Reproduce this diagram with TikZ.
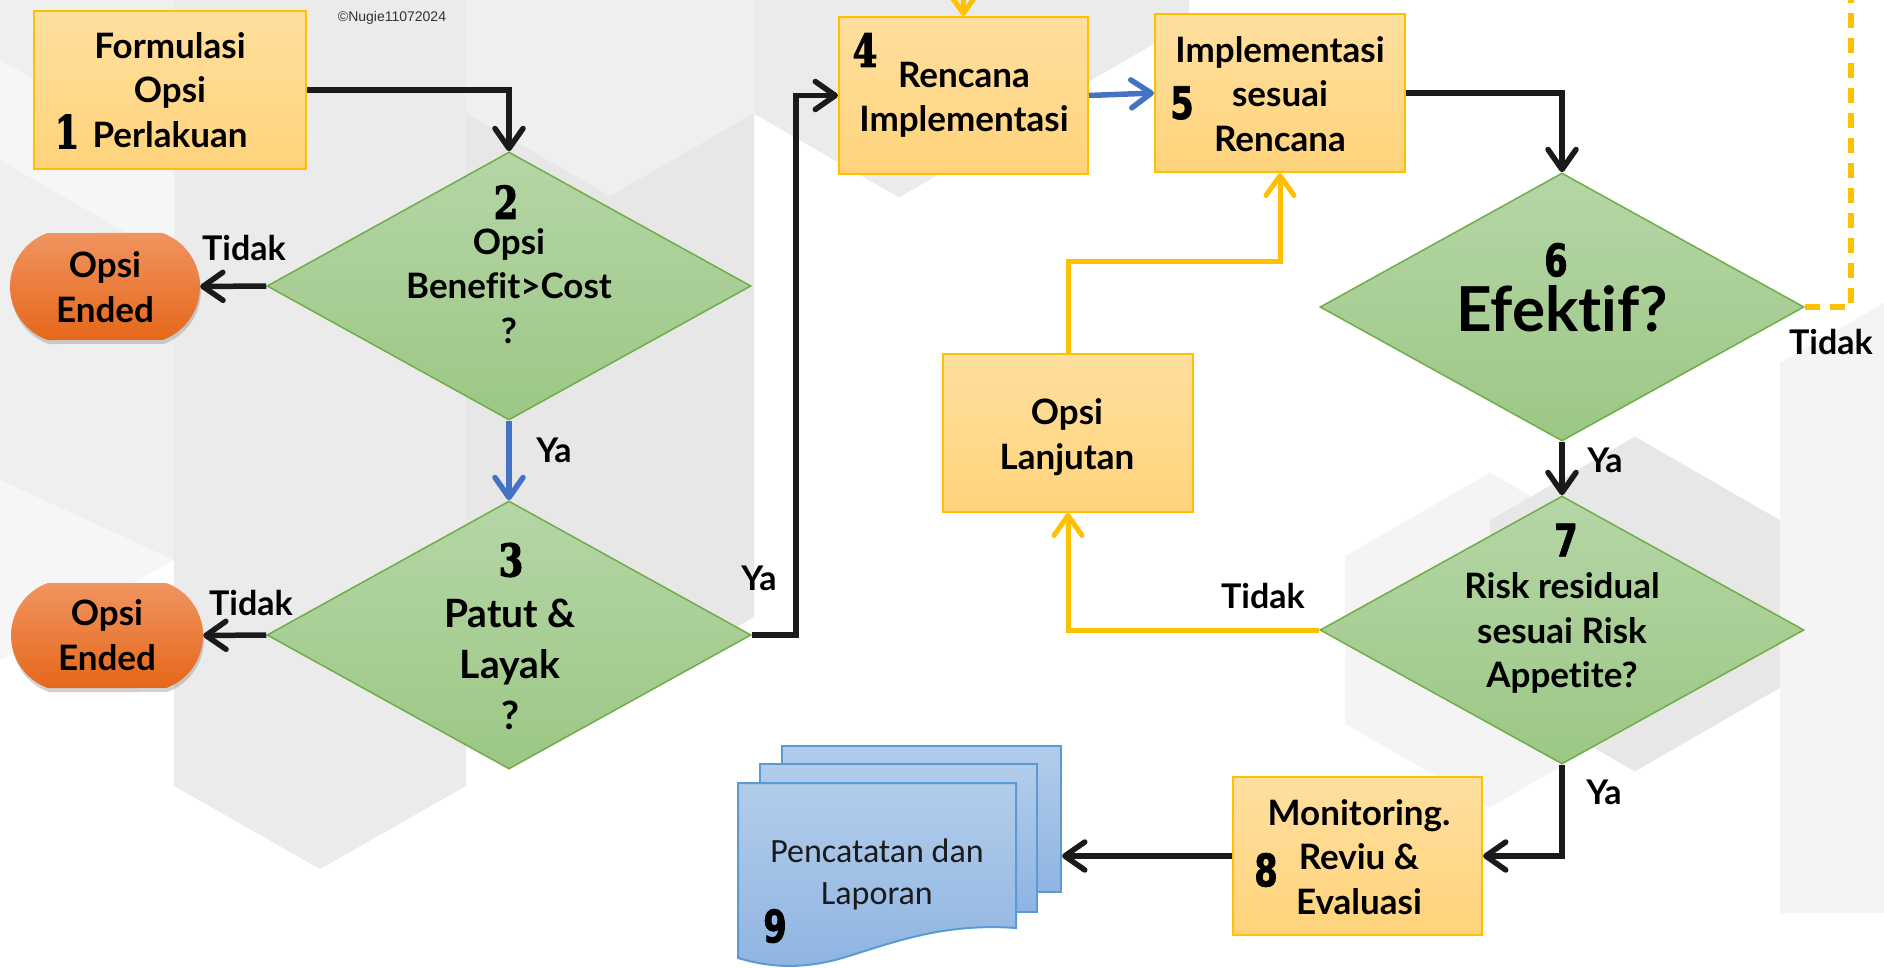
\documentclass[tikz,border=0pt]{standalone}
\usepackage{fontspec}
\setmainfont{Lato}[Ligatures={NoCommon}]
\newfontfamily\numfont{DejaVu Sans}[FakeStretch=0.75, FakeBold=1.5]
\newfontfamily\slabfont{DejaVu Serif}[FakeStretch=0.78, FakeBold=2.5]
\newfontfamily\docfont{Carlito}
\newfontfamily\copyfont{Liberation Sans}
\usetikzlibrary{shapes.geometric,shapes.misc,arrows.meta,shadows,calc}

\definecolor{boxtop}{HTML}{FFDF9F}
\definecolor{boxbot}{HTML}{FFD37A}
\definecolor{boxline}{HTML}{FFC000}
\definecolor{dtop}{HTML}{B5D6A6}
\definecolor{dbot}{HTML}{9CC785}
\definecolor{dline}{HTML}{70AD47}
\definecolor{otop}{HTML}{F09460}
\definecolor{obot}{HTML}{E6671A}
\definecolor{doctop}{HTML}{B2CDEA}
\definecolor{docbot}{HTML}{8FB4E2}
\definecolor{docline}{HTML}{5B9BD5}
\definecolor{arrblue}{HTML}{4472C4}
\definecolor{arrgold}{HTML}{FFC000}
\definecolor{ink}{HTML}{1A1A1A}
\definecolor{bgA}{HTML}{EFEFEF}
\definecolor{bgB}{HTML}{EBEBEB}
\definecolor{bgC}{HTML}{E7E7E7}
\definecolor{bgD}{HTML}{F4F4F4}

% pointy-top hexagon of the background tiling, centre (#1,#2)
\newcommand\bghex[3]{\fill[#3] (#1-145,#2-83.7) -- (#1,#2-167.4) -- (#1+145,#2-83.7)
  -- (#1+145,#2+83.7) -- (#1,#2+167.4) -- (#1-145,#2+83.7) -- cycle;}

\tikzset{
  stepbox/.style={rectangle, draw=boxline, line width=2pt, top color=boxtop,
    bottom color=boxbot, inner sep=0pt},
  decision/.style={diamond, draw=dline, line width=1.5pt, top color=dtop,
    bottom color=dbot, inner sep=0pt, minimum width=484pt, minimum height=268pt},
  endbox/.style={rounded rectangle, rounded rectangle arc length=140,
    top color=otop, bottom color=obot, inner sep=0pt,
    drop shadow={shadow xshift=1pt, shadow yshift=-4pt, opacity=.35}},
  sheet/.style={draw=docline, line width=2pt, top color=doctop, bottom color=docbot},
  txt/.style={align=center, inner sep=0pt, font=\fontsize{35}{44.5}\selectfont\bfseries},
  lbl/.style={inner sep=0pt, font=\fontsize{34}{40}\selectfont\bfseries},
  num/.style={inner sep=0pt, font=\fontsize{45}{45}\numfont\bfseries},
  slab/.style={inner sep=0pt, font=\fontsize{45}{45}\slabfont\bfseries},
  flow/.style={draw=ink, line width=5.5pt, -{Straight Barb[length=20pt,width=28pt,round]}},
  blueflow/.style={flow, draw=arrblue},
  goldflow/.style={flow, draw=arrgold, line width=5pt},
  golddash/.style={draw=arrgold, line width=6pt, dash pattern=on 15pt off 10pt},
}

\begin{document}
\begin{tikzpicture}[x=1pt,y=-1pt]
\useasboundingbox (0,0) rectangle (1884,968);
\fill[white] (0,0) rectangle (1884,968);

% ---- background tiling ----
\fill[bgA] (0,0) -- (174,0) -- (174,560) -- (0,660) -- cycle;
\fill[bgB] (174,0) -- (466,0) -- (466,786) -- (320,869) -- (174,786) -- cycle;
\fill[bgC] (466,0) -- (754,0) -- (754,617) -- (610,700) -- (466,617) -- cycle;
\fill[bgA] (466,0) -- (754,0) -- (754,113) -- (610,196) -- (466,113) -- cycle;
\fill[white, opacity=.45] (0,60) -- (174,160) -- (174,260) -- (0,160) -- cycle;
\fill[white, opacity=.45] (0,480) -- (174,560) -- (174,786) -- (0,700) -- cycle;
\bghex{899}{30}{bgB}
\bghex{1044}{-60}{bgB}
\bghex{1490}{640}{bgD}
\bghex{1635}{604}{bgC}
\fill[bgD] (1780,363) -- (1884,303) -- (1884,913) -- (1780,913) -- cycle;

\node[inner sep=0pt, text=black!80, font=\copyfont\fontsize{14}{14}\selectfont]
  (copy) at (392,18) {©Nugie11072024};

% ---- shapes ----
\node[stepbox, minimum width=272pt, minimum height=158pt] (b1) at (170,90) {};
\node[decision] (d2) at (509,286) {};
\node[endbox, minimum width=190pt, minimum height=107pt] (oe1) at (105,286.5) {};
\node[decision] (d3) at (509,635) {};
\node[endbox, minimum width=192pt, minimum height=105pt] (oe2) at (107,635.5) {};
\node[stepbox, minimum width=249pt, minimum height=157pt] (b4) at (963.5,95.5) {};
\node[stepbox, minimum width=250pt, minimum height=158pt] (b5) at (1280,93) {};
\node[stepbox, minimum width=250pt, minimum height=158pt] (bOL) at (1068,433) {};
\node[decision] (d6) at (1562,307) {};
\node[decision] (d7) at (1562,630) {};
\node[stepbox, minimum width=249pt, minimum height=158pt] (b8) at (1357.5,856) {};

% stacked report sheets
\node[sheet, rectangle, inner sep=0pt, minimum width=279pt, minimum height=146pt] (d9c) at (921.5,819) {};
\node[sheet, rectangle, inner sep=0pt, minimum width=277pt, minimum height=148pt] (d9b) at (898.5,838) {};
\path[sheet] (738,783) -- (1016,783) -- (1016,928)
  .. controls (935,922) and (880,948) .. (835,960)
  .. controls (795,970) and (765,966) .. (738,958) -- cycle;

% ---- texts ----
\node[txt] (t1) at (170,90) {Formulasi\\Opsi\\Perlakuan};
\node[slab] (n1) at (67,131.5) {1};
\node[txt] (t2) at (509,286) {Opsi\\Benefit>Cost\\?};
\node[slab] (n2) at (506,202) {2};
\node[txt, font=\fontsize{39}{51}\selectfont\bfseries] (t3) at (510,664) {Patut \&\\Layak\\?};
\node[slab] (n3) at (511,560) {3};
\node[txt] (toe1) at (105,287) {Opsi\\Ended};
\node[txt] (toe2) at (107,635) {Opsi\\Ended};
\node[txt] (t4) at (964,100) {Rencana\\Implementasi};
\node[slab] (n4) at (865,50) {4};
\node[txt] (t5) at (1280,94) {Implementasi\\sesuai\\Rencana};
\node[num] (n5) at (1182,103) {5};
\node[txt] (tOL) at (1067,437) {Opsi\\Lanjutan};
\node[txt, font=\fontsize{62}{62}\selectfont\bfseries] (t6) at (1562,309) {Efektif?};
\node[num] (n6) at (1556,260) {6};
\node[txt] (t7) at (1562,633) {Risk residual\\sesuai Risk\\Appetite?};
\node[num] (n7) at (1566,540) {7};
\node[txt] (t8) at (1359,857) {Monitoring.\\Reviu \&\\Evaluasi};
\node[num] (n8) at (1266,870) {8};
\node[align=center, inner sep=0pt, text=ink, font=\docfont\fontsize{34}{42}\selectfont]
  (t9) at (877,874) {Pencatatan dan\\Laporan};
\node[num] (n9) at (775,926) {9};

% ---- connectors ----
\coordinate (feedout) at (1851,-20);
\coordinate (feedin) at (963,-30);
\draw[flow] (b1.east) -| (d2.north);
\draw[flow] (d2.west) -- (oe1.east);
\draw[blueflow] (d2.south) -- (d3.north);
\draw[flow] (d3.west) -- (oe2.east);
\draw[flow] (d3.east) -- ++(44,0) |- (b4.west);
\draw[blueflow] (b4.east) -- (b5.west);
\draw[flow] (b5.east) -| (d6.north);
\draw[flow] (d6.south) -- (d7.north);
\draw[golddash] (d6.east) -| (feedout);
\draw[goldflow] (feedin) -- (b4.north);
\draw[goldflow] (d7.west) -| (bOL.south);
\draw[goldflow] (bOL.north) -- ++(0,-91) -| (b5.south);
\draw[flow] (d7.south) |- (b8.east);
\draw[flow] (b8.west) -- (b8.west -| d9c.east);

% ---- branch labels ----
\node[lbl] (l2n) at (244,248) {Tidak};
\node[lbl] (l2y) at (554,450) {Ya};
\node[lbl] (l3n) at (251,603) {Tidak};
\node[lbl] (l3y) at (759,578) {Ya};
\node[lbl] (l6n) at (1831,342) {Tidak};
\node[lbl] (l6y) at (1605,460) {Ya};
\node[lbl] (l7n) at (1263,596) {Tidak};
\node[lbl] (l7y) at (1604,792) {Ya};
\end{tikzpicture}
\end{document}
